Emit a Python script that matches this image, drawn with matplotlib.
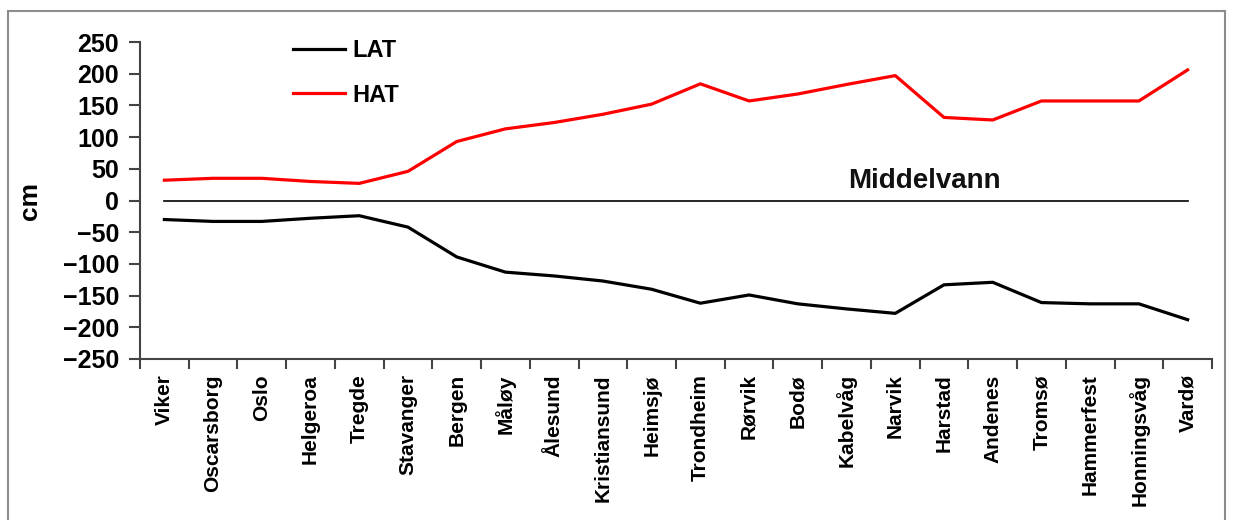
import matplotlib
matplotlib.use("Agg")
import matplotlib.pyplot as plt
from matplotlib.patches import Rectangle
import numpy as np

stations = ["Viker", "Oscarsborg", "Oslo", "Helgeroa", "Tregde", "Stavanger",
            "Bergen", "Måløy", "Ålesund", "Kristiansund", "Heimsjø", "Trondheim",
            "Rørvik", "Bodø", "Kabelvåg", "Narvik", "Harstad", "Andenes",
            "Tromsø", "Hammerfest", "Honningsvåg", "Vardø"]
lat = [-30, -33, -33, -28, -24, -42, -89, -113, -119, -127, -140, -162,
       -149, -163, -171, -178, -133, -129, -161, -163, -163, -188]
hat = [32, 35, 35, 30, 27, 46, 93, 113, 123, 136, 152, 184,
       157, 168, 183, 197, 131, 127, 157, 157, 157, 206]
middel = [0] * len(stations)

plt.rcParams['font.family'] = ['Liberation Sans', 'DejaVu Sans']

W, H = 1233, 520
fig = plt.figure(figsize=(W / 100, H / 100), dpi=100)
fig.patches.append(Rectangle((8 / W, -0.1), (1225 - 8) / W, 1.1 - 11 / H,
                             transform=fig.transFigure, fill=False,
                             edgecolor='#8c8c8c', linewidth=1.5))

AW = 1212 - 140
ax = fig.add_axes([140 / W, 1 - 359 / H, AW / W, (359 - 42) / H])
x = np.arange(len(stations))
ax.plot(x, lat, color='black', lw=2.3, label='LAT', solid_joinstyle='round')
ax.plot(x, hat, color='#ff0000', lw=2.3, label='HAT', solid_joinstyle='round')
ax.plot(x, middel, color='black', lw=1.2)
ax.text(15.6, 10, 'Middelvann', fontsize=20, ha='center', va='bottom',
        fontweight='bold', color='#111111')

ax.set_xlim(-0.5, len(stations) - 0.5)
ax.set_ylim(-250, 250)
ax.set_yticks(np.arange(-250, 251, 50))
ax.tick_params(axis='y', length=8, width=1.5, pad=7, labelsize=18,
               color='#444444')
for lbl in ax.get_yticklabels():
    lbl.set_fontweight('bold')

ax.set_xticks(x)
ax.set_xticklabels(stations, rotation=90, fontsize=15, fontweight='bold')
ax.set_xticks(np.arange(-0.5, len(stations) + 0.5, 1), minor=True)
ax.tick_params(axis='x', which='major', length=0, pad=11)
ax.tick_params(axis='x', which='minor', length=7, width=1.5, color='#444444')

for s in ['top', 'right']:
    ax.spines[s].set_visible(False)
for s in ['left', 'bottom']:
    ax.spines[s].set_color('#444444')
    ax.spines[s].set_linewidth(1.5)

ax.set_ylabel('cm', fontsize=19, fontweight='bold')
ax.yaxis.set_label_coords(-98 / AW, 0.5)

leg = ax.legend(loc='upper left', bbox_to_anchor=((272 - 140) / AW, 1.075),
                frameon=False, handlelength=2.2, handletextpad=0.3,
                labelspacing=0.9, prop={'size': 17, 'weight': 'bold'})

fig.savefig('out.png', dpi=100)
